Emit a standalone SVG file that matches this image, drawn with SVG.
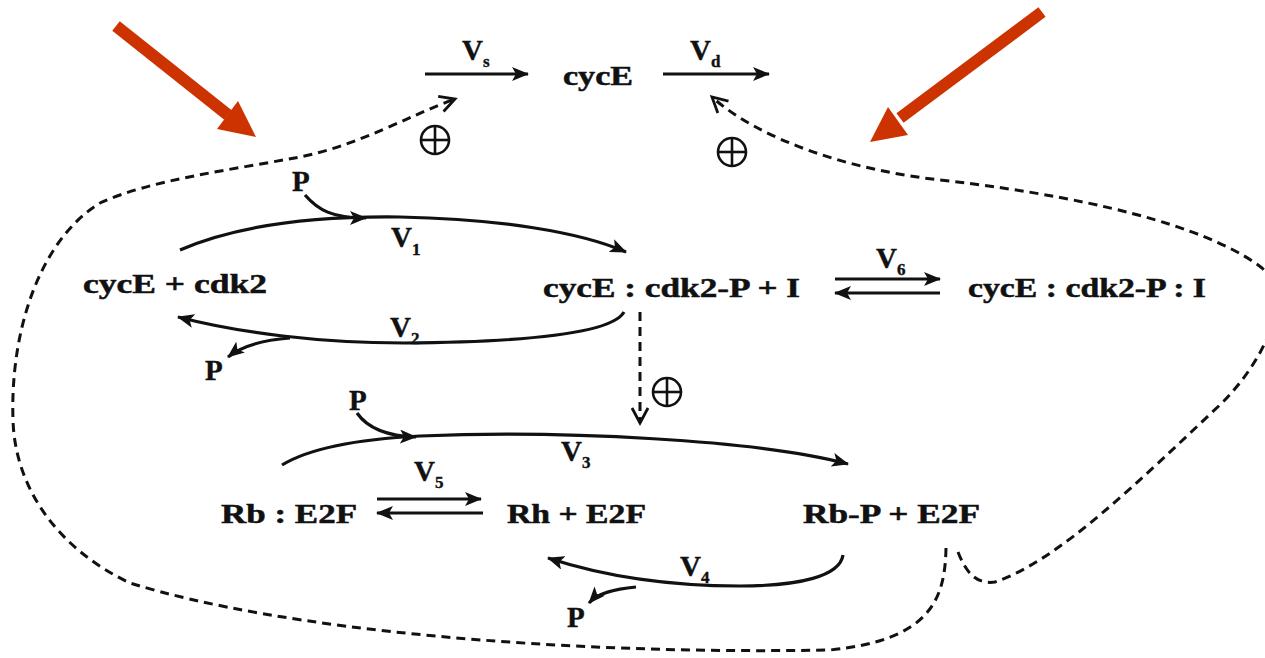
<svg xmlns="http://www.w3.org/2000/svg" width="1265" height="658" viewBox="0 0 1265 658">
<style>
.t{font-family:"Liberation Serif","Times New Roman",serif;font-weight:bold;font-size:27px;fill:#111;stroke:#111;stroke-width:0.5}
.v{font-family:"Liberation Serif","Times New Roman",serif;font-weight:bold;font-size:29px;fill:#111;stroke:#111;stroke-width:0.4}
.sub{font-size:17px}
.s{fill:none;stroke:#111;stroke-width:3.2}
.d{fill:none;stroke:#111;stroke-width:3;stroke-dasharray:9 6}
.o{fill:none;stroke:#111;stroke-width:2.6}
.red{fill:#CC3300}
</style>
<defs>
<marker id="ah" markerUnits="userSpaceOnUse" markerWidth="18" markerHeight="14" refX="16" refY="7" orient="auto">
<path d="M0,0 L17,7 L0,14 L4,7 Z" fill="#111"/>
</marker>
<marker id="oh" markerUnits="userSpaceOnUse" markerWidth="20" markerHeight="20" refX="17" refY="10" orient="auto">
<path d="M2,2 L17,10 L2,18" fill="none" stroke="#111" stroke-width="2.8"/>
</marker>
</defs>

<g id="red-arrows">
<line x1="116" y1="26" x2="228" y2="115" stroke="#CC3300" stroke-width="12"/>
<polygon class="red" points="256,137 217,129 238,101"/>
<line x1="1042" y1="12" x2="900" y2="118" stroke="#CC3300" stroke-width="12"/>
<polygon class="red" points="870,142 888,107 908,135"/>
</g>

<g id="connectors">
<line class="s" x1="425" y1="74" x2="528" y2="74" marker-end="url(#ah)"/>
<line class="s" x1="663" y1="74" x2="769" y2="74" marker-end="url(#ah)"/>
<path class="s" d="M180,250 C240,224 320,216 400,217 C500,219 580,232 626,252" marker-end="url(#ah)"/>
<path class="s" d="M305,195 C318,210 332,218 366,218" marker-end="url(#ah)"/>
<path class="s" d="M624,312 C612,334 520,342 404,343 C320,343 240,333 178,317" marker-end="url(#ah)"/>
<path class="s" d="M290,338 C262,340 242,346 228,357" marker-end="url(#ah)"/>
<line class="s" x1="835" y1="279" x2="940" y2="279" marker-end="url(#ah)"/>
<line class="s" x1="940" y1="293" x2="835" y2="293" marker-end="url(#ah)"/>
<path class="s" d="M282,465 C310,448 360,439 420,436 C560,430 760,440 848,464" marker-end="url(#ah)"/>
<path class="s" d="M357,413 C366,426 382,436 416,437" marker-end="url(#ah)"/>
<line class="s" x1="377" y1="499" x2="481" y2="499" marker-end="url(#ah)"/>
<line class="s" x1="483" y1="513" x2="377" y2="513" marker-end="url(#ah)"/>
<path class="s" d="M843,555 C840,576 800,586 740,586 C660,586 600,575 548,558" marker-end="url(#ah)"/>
<path class="s" d="M636,587 C614,589 598,593 589,603" marker-end="url(#ah)"/>
<path class="d" d="M946,548 C945,600 930,640 830,650 C560,655 280,630 130,583 C60,550 15,490 13,420 C10,330 40,240 100,203 C150,180 230,170 300,157 C360,145 410,115 455,99" marker-end="url(#oh)"/>
<path class="d" d="M958,552 C965,570 975,585 995,582 C1060,560 1140,480 1223,402 C1262,362 1295,300 1262,268 C1220,235 1120,200 940,180 C850,170 760,140 712,97" marker-end="url(#oh)"/>
<line class="d" x1="640" y1="312" x2="640" y2="423" marker-end="url(#oh)"/>
</g>

<g id="plus-signs">
<g id="plus1"><circle class="o" cx="435" cy="140" r="14"/><line class="o" x1="421" y1="140" x2="449" y2="140"/><line class="o" x1="435" y1="126" x2="435" y2="154"/></g>
<g id="plus2"><circle class="o" cx="732" cy="152" r="14"/><line class="o" x1="718" y1="152" x2="746" y2="152"/><line class="o" x1="732" y1="138" x2="732" y2="166"/></g>
<g id="plus3"><circle class="o" cx="667" cy="392" r="14"/><line class="o" x1="653" y1="392" x2="681" y2="392"/><line class="o" x1="667" y1="378" x2="667" y2="406"/></g>
</g>

<g id="node-cycE"><text class="t" x="563" y="85" textLength="70" lengthAdjust="spacingAndGlyphs">cycE</text></g>
<g id="node-cycE-cdk2"><text class="t" x="83" y="293" textLength="184" lengthAdjust="spacingAndGlyphs">cycE + cdk2</text></g>
<g id="node-cycE-cdk2P-I"><text class="t" x="543" y="297" textLength="257" lengthAdjust="spacingAndGlyphs">cycE : cdk2-P + I</text></g>
<g id="node-complex-I"><text class="t" x="968" y="297" textLength="238" lengthAdjust="spacingAndGlyphs">cycE : cdk2-P : I</text></g>
<g id="node-Rb-E2F"><text class="t" x="221" y="523" textLength="136" lengthAdjust="spacingAndGlyphs">Rb : E2F</text></g>
<g id="node-Rh-E2F"><text class="t" x="507" y="523" textLength="139" lengthAdjust="spacingAndGlyphs">Rh + E2F</text></g>
<g id="node-RbP-E2F"><text class="t" x="803" y="523" textLength="177" lengthAdjust="spacingAndGlyphs">Rb-P + E2F</text></g>

<g id="labels">
<text class="v" x="462" y="60">V<tspan class="sub" dy="7">s</tspan></text>
<text class="v" x="690" y="60">V<tspan class="sub" dy="7">d</tspan></text>
<text class="v" x="391" y="247">V<tspan class="sub" dy="8">1</tspan></text>
<text class="v" x="390" y="337">V<tspan class="sub" dy="7">2</tspan></text>
<text class="v" x="876" y="268">V<tspan class="sub" dy="7">6</tspan></text>
<text class="v" x="561" y="461">V<tspan class="sub" dy="7">3</tspan></text>
<text class="v" x="414" y="481">V<tspan class="sub" dy="7">5</tspan></text>
<text class="v" x="680" y="576">V<tspan class="sub" dy="7">4</tspan></text>
<text class="v" x="292" y="191">P</text>
<text class="v" x="205" y="380">P</text>
<text class="v" x="349" y="410">P</text>
<text class="v" x="567" y="627">P</text>
</g>
</svg>
